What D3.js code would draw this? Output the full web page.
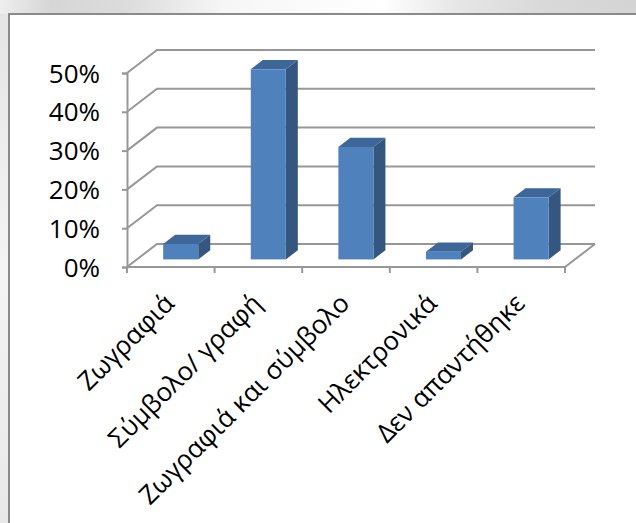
<!DOCTYPE html>
<html>
<head>
<meta charset="utf-8">
<script src="https://cdn.jsdelivr.net/npm/d3@7"></script>
<style>
  html, body { margin: 0; padding: 0; background: #fff; }
  svg { display: block; }
  text { font-family: "Open Sans", "Noto Sans", sans-serif; fill: #000; }
</style>
</head>
<body>
<svg id="chart" width="636" height="523"></svg>
<script>
// Answer categories and their shares
const categories = ["Ζωγραφιά", "Σύμβολο/ γραφή", "Ζωγραφιά και σύμβολο", "Ηλεκτρονικά", "Δεν απαντήθηκε"];
const values = [0.04, 0.49, 0.29, 0.02, 0.16];
const yTicks = [0, 0.1, 0.2, 0.3, 0.4, 0.5];

const W = 636, H = 523;
const svg = d3.select("#chart");

// Backdrop outside the chart frame
const defs = svg.append("defs");
const topGrad = defs.append("linearGradient").attr("id", "topStrip");
[[0, "#eeeeee"], [0.08, "#d6d6d6"], [0.2, "#dcdcdc"], [0.35, "#f6f6f6"], [0.6, "#ffffff"],
 [0.72, "#e6e6e6"], [0.85, "#d9d9d9"], [1, "#d4d4d4"]].forEach(([o, c]) =>
  topGrad.append("stop").attr("offset", o).attr("stop-color", c));
const leftGrad = defs.append("linearGradient").attr("id", "leftStrip")
  .attr("x1", 0).attr("y1", 0).attr("x2", 0).attr("y2", 1);
[[0, "#e4e4e4"], [0.5, "#f4f4f4"], [1, "#e8e8e8"]].forEach(([o, c]) =>
  leftGrad.append("stop").attr("offset", o).attr("stop-color", c));

svg.append("rect").attr("width", W).attr("height", H).attr("fill", "#fff");
svg.append("rect").attr("x", 0).attr("y", 0).attr("width", W).attr("height", 14).attr("fill", "url(#topStrip)");
svg.append("rect").attr("x", 0).attr("y", 14).attr("width", 9).attr("height", H - 14).attr("fill", "url(#leftStrip)");

// Chart frame
svg.append("path")
  .attr("d", `M9,${H + 2}V14H${W + 2}`)
  .attr("fill", "none").attr("stroke", "#8a8a8a").attr("stroke-width", 2);

// Plot geometry: front plane plus a receding depth offset
const x0 = 127, x1 = 565;
const depth = { dx: 30, dy: -23 };

const x = d3.scaleBand().domain(categories).range([x0, x1]).paddingInner(0.6).paddingOuter(0.3);
const y = d3.scaleLinear().domain([0, 0.5]).range([267, 73]);

const gridColor = "#979797";
const grid = svg.append("g").attr("fill", "none").attr("stroke", gridColor).attr("stroke-width", 2);

// Gridlines: diagonal on the side wall, horizontal on the back wall
yTicks.forEach(t => {
  const yy = y(t);
  grid.append("path")
    .attr("d", `M${x0},${yy}L${x0 + depth.dx},${yy + depth.dy}H${x1 + depth.dx}`);
});
// Floor front edge and right edge
grid.append("path")
  .attr("d", `M${x0},${y(0)}H${x1}L${x1 + depth.dx},${y(0) + depth.dy}`);

// Vertical value axis with ticks and labels
const yAxis = d3.axisLeft(y).tickValues(yTicks).tickFormat(d3.format(".0%")).tickSize(5).tickPadding(22);
const yG = svg.append("g").attr("transform", `translate(${x0},0)`).call(yAxis);
yG.select(".domain").attr("stroke", gridColor).attr("stroke-width", 2);
yG.selectAll(".tick line").attr("stroke", gridColor).attr("stroke-width", 2);
yG.selectAll(".tick text").attr("font-size", 26).attr("font-family", "\"Open Sans\", sans-serif").attr("fill", "#000").attr("dy", "0.35em");

// Category tick marks on the floor front edge
const bounds = categories.map(c => x(c) - x.step() * x.paddingInner() / 2).concat([x1]);
svg.append("g").selectAll("line").data(bounds).join("line")
  .attr("x1", d => d).attr("x2", d => d)
  .attr("y1", y(0)).attr("y2", y(0) + 6)
  .attr("stroke", gridColor).attr("stroke-width", 2);

// 3D columns: front, top and right faces
const fOff = 0.33, fDepth = 0.4;
const ox = depth.dx * fOff, oy = depth.dy * fOff;
const bx = depth.dx * fDepth, by = depth.dy * fDepth;
const bars = svg.append("g").selectAll("g").data(categories.map((c, i) => ({ c, v: values[i] }))).join("g");

bars.each(function (d) {
  const g = d3.select(this);
  const l = x(d.c) + ox, r = l + x.bandwidth();
  const b = y(0) + oy, t = y(d.v) + oy;
  g.append("path")
    .attr("d", `M${r},${b}V${t}L${r + bx},${t + by}V${b + by}Z`)
    .attr("fill", "#35577f");
  g.append("path")
    .attr("d", `M${l},${t}L${l + bx},${t + by}H${r + bx}L${r},${t}Z`)
    .attr("fill", "#3d6699");
  g.append("rect")
    .attr("x", l).attr("y", t).attr("width", x.bandwidth()).attr("height", b - t)
    .attr("fill", "#4f81bd");
});

// Rotated category labels
svg.append("g").selectAll("text").data(categories).join("text")
  .attr("transform", d => `translate(${x(d) + x.bandwidth() / 2 + 5},${y(0) + 38}) rotate(-45)`)
  .attr("text-anchor", "end")
  .attr("font-size", 26)
  .text(d => d);
</script>
</body>
</html>
